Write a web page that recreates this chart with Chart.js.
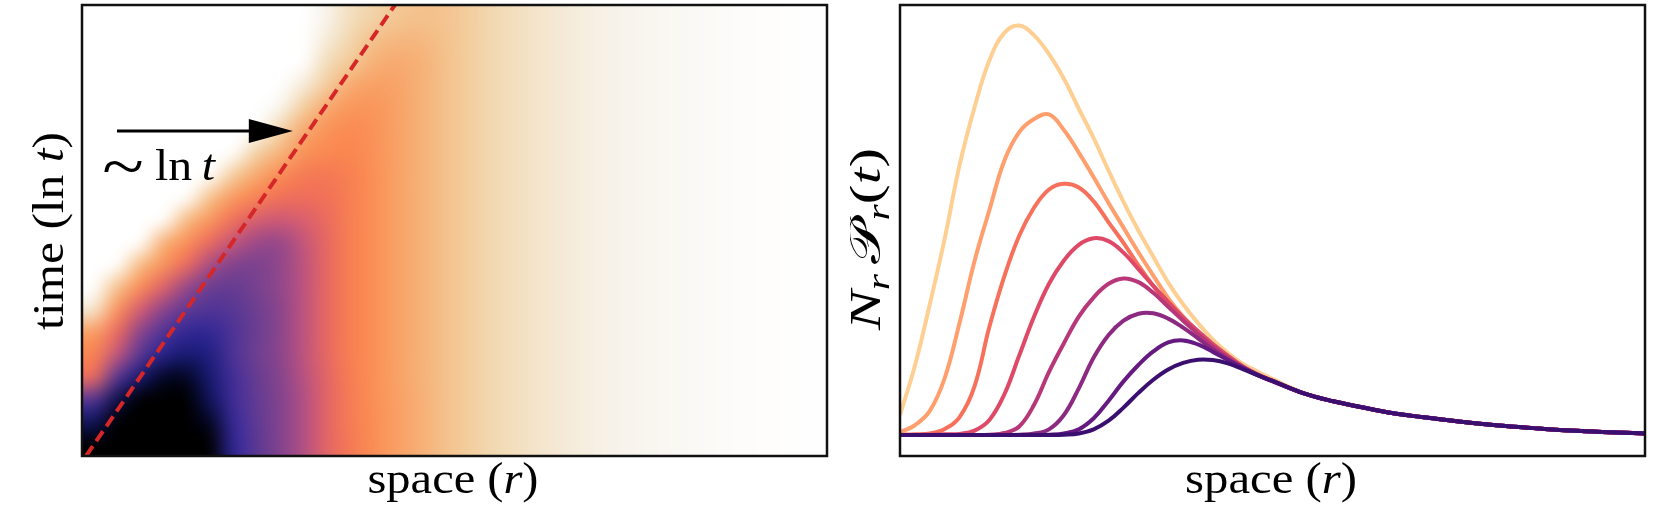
<!DOCTYPE html>
<html><head><meta charset="utf-8">
<script src="https://cdn.jsdelivr.net/npm/chart.js@4.4.1/dist/chart.umd.min.js"></script>
<style>
html,body{margin:0;padding:0;background:#fff;width:1661px;height:519px;overflow:hidden;}
canvas{position:absolute;top:0;}
#left{left:0;}
#right{left:850px;}
</style></head><body>
<canvas id="left" width="850" height="519"></canvas>
<canvas id="right" width="811" height="519"></canvas>
<script>
// ---------------- DATA ----------------
// Left panel: density map (0-100). Rows = time bins (index 0 = earliest, bottom), cols = 32 space bins over r in [0,1]
const heatRows = [
  [100,100,100,100,100,98,85,73,64,56,47,41,35,30,26,21.5,18,15,12.7,10.6,8.8,7.2,5.8,4.7,3.8,3,2.4,1.8,1.3,0.9,0.6,0.3],
  [92,100,100,100,100,96,83,72,64,56,47,40,35,30,26,21.5,18,15,12.7,10.6,8.8,7.2,5.8,4.7,3.8,3,2.4,1.8,1.3,0.9,0.6,0.3],
  [75,93,100,100,100,92,81,71,64,56,47,40,34.5,30,26,21.5,18,15,12.7,10.6,8.8,7.2,5.8,4.7,3.8,3,2.4,1.8,1.3,0.9,0.6,0.3],
  [45,74,90,96,96,90,80,70,63,55,47,39.5,34.5,29.5,25.5,21.5,18,15,12.7,10.6,8.8,7.2,5.8,4.7,3.8,3,2.4,1.8,1.3,0.9,0.6,0.3],
  [38,53,74,87,90,88,77,68,62,54,46,39,34.5,29.5,25.5,21.5,18,15,12.7,10.6,8.8,7.2,5.8,4.7,3.8,3,2.4,1.8,1.3,0.9,0.6,0.3],
  [30,45,62,76,84,84,77,69,62,54,46,39,34.5,29.5,25.5,21.5,18,15,12.7,10.6,8.8,7.2,5.8,4.7,3.8,3,2.4,1.8,1.3,0.9,0.6,0.3],
  [10,33,50,62,72,76,74,68,62,54,46,39,34.5,29.5,25.5,21.5,18,15,12.7,10.6,8.8,7.2,5.8,4.7,3.8,3,2.4,1.8,1.3,0.9,0.6,0.3],
  [0,20,35,48,60,69,70,66,61,54,46,39,34.5,29.5,25.5,21.5,18,15,12.7,10.6,8.8,7.2,5.8,4.7,3.8,3,2.4,1.8,1.3,0.9,0.6,0.3],
  [0,0,22,33,45,57,64,65,61,54,46,39,34.5,29.5,25.5,21.5,18,15,12.7,10.6,8.8,7.2,5.8,4.7,3.8,3,2.4,1.8,1.3,0.9,0.6,0.3],
  [0,0,0,24.5,34,45,53,59,60,53,46,39,34.5,29.5,25.5,21.5,18,15,12.7,10.6,8.8,7.2,5.8,4.7,3.8,3,2.4,1.8,1.3,0.9,0.6,0.3],
  [0,0,0,0,22,32,43,49,51,49,45,39,34.5,29.5,25.5,21.5,18,15,12.7,10.6,8.8,7.2,5.8,4.7,3.8,3,2.4,1.8,1.3,0.9,0.6,0.3],
  [0,0,0,0,0,20,31,38,43,44,43,39,34.5,29.5,25.5,21.5,18,15,12.7,10.6,8.8,7.2,5.8,4.7,3.8,3,2.4,1.8,1.3,0.9,0.6,0.3],
  [0,0,0,0,0,0,17.5,27,35,40,41,38.5,34.5,29.5,25.5,21.5,18,15,12.7,10.6,8.8,7.2,5.8,4.7,3.8,3,2.4,1.8,1.3,0.9,0.6,0.3],
  [0,0,0,0,0,0,0,16,24,33,36,37,34,29.5,25.5,21.5,18,15,12.7,10.6,8.8,7.2,5.8,4.7,3.8,3,2.4,1.8,1.3,0.9,0.6,0.3],
  [0,0,0,0,0,0,0,1,15,27,33,35.5,33.5,29.5,25.5,21.5,18,15,12.7,10.6,8.8,7.2,5.8,4.7,3.8,3,2.4,1.8,1.3,0.9,0.6,0.3],
  [0,0,0,0,0,0,0,0,4,17,27,32,32.5,29.5,25.5,21.5,18,15,12.7,10.6,8.8,7.2,5.8,4.7,3.8,3,2.4,1.8,1.3,0.9,0.6,0.3],
  [0,0,0,0,0,0,0,0,0,8,17.5,26.5,29.5,29,25.5,21.5,18,15,12.7,10.6,8.8,7.2,5.8,4.7,3.8,3,2.4,1.8,1.3,0.9,0.6,0.3],
  [0,0,0,0,0,0,0,0,0,0,13,18.5,25,27,25.5,21.7,18,15,12.7,10.6,8.8,7.2,5.8,4.7,3.8,3,2.4,1.8,1.3,0.9,0.6,0.3],
  [0,0,0,0,0,0,0,0,0,0,8,15,21,23.5,23.5,21.2,18,15,12.7,10.6,8.8,7.2,5.8,4.7,3.8,3,2.4,1.8,1.3,0.9,0.6,0.3],
  [0,0,0,0,0,0,0,0,0,0,5,12.5,16,19.5,21,20.5,18,15,12.7,10.6,8.8,7.2,5.8,4.7,3.8,3,2.4,1.8,1.3,0.9,0.6,0.3]
];
// front ~ ln t (dashed line), in (space, time) units
const frontLine = [{x:0.0054, y:0}, {x:0.42, y:1}];
// arrow annotation (space, time)
const arrowFrom = [0.047, 0.7206];
const arrowTo = [0.283, 0.7206];
const tildePos = [0.055, 0.612];
const lnTextPos = [0.098, 0.612];

// Right panel: N_r P_r(t) at 8 successive times
const space = [0,2,4,6,8,10,12,14,16,18,20,22,24,26,28,30,32,34,36,38,40,42,44,46,48,50,54,58,62,66,70,75,80,85,90,95,100];
const t1 = [0.05,0.17,0.32,0.48,0.66,0.80,0.915,0.982,1.0,0.976,0.93,0.87,0.797,0.725,0.646,0.57,0.50,0.436,0.373,0.32,0.274,0.234,0.202,0.175,0.156,0.138,0.105,0.084,0.069,0.055,0.045,0.034,0.025,0.018,0.012,0.008,0.005];
const t2 = [0.008,0.025,0.06,0.14,0.275,0.425,0.55,0.67,0.74,0.772,0.783,0.745,0.69,0.63,0.567,0.507,0.447,0.39,0.335,0.29,0.252,0.22,0.19,0.166,0.148,0.134,0.104,0.084,0.069,0.055,0.045,0.034,0.025,0.018,0.012,0.008,0.005];
const t3 = [0.002,0.003,0.005,0.016,0.045,0.12,0.265,0.388,0.487,0.556,0.6,0.614,0.605,0.571,0.52,0.47,0.415,0.365,0.32,0.283,0.248,0.218,0.19,0.166,0.148,0.134,0.104,0.084,0.069,0.055,0.045,0.034,0.025,0.018,0.012,0.008,0.005];
const t4 = [0.001,0.001,0.002,0.003,0.004,0.012,0.038,0.1,0.195,0.29,0.37,0.427,0.465,0.481,0.474,0.446,0.406,0.365,0.326,0.288,0.255,0.223,0.195,0.169,0.149,0.133,0.104,0.084,0.069,0.055,0.045,0.034,0.025,0.018,0.012,0.008,0.005];
const t5 = [0.001,0.001,0.001,0.001,0.001,0.001,0.002,0.006,0.022,0.075,0.155,0.225,0.29,0.337,0.37,0.383,0.374,0.348,0.314,0.28,0.248,0.217,0.19,0.167,0.148,0.133,0.104,0.084,0.069,0.055,0.045,0.034,0.025,0.018,0.012,0.008,0.005];
const t6 = [0.001,0.001,0.001,0.001,0.001,0.001,0.001,0.001,0.002,0.005,0.015,0.05,0.115,0.19,0.245,0.28,0.297,0.298,0.285,0.263,0.237,0.21,0.186,0.165,0.147,0.132,0.104,0.084,0.069,0.055,0.045,0.034,0.025,0.018,0.012,0.008,0.005];
const t7 = [0.001,0.001,0.001,0.001,0.001,0.001,0.001,0.001,0.001,0.001,0.002,0.005,0.015,0.042,0.085,0.132,0.172,0.205,0.227,0.232,0.222,0.204,0.184,0.165,0.148,0.133,0.104,0.084,0.069,0.055,0.045,0.034,0.025,0.018,0.012,0.008,0.005];
const t8 = [0.001,0.001,0.001,0.001,0.001,0.001,0.001,0.001,0.001,0.001,0.001,0.002,0.005,0.015,0.036,0.068,0.104,0.136,0.161,0.177,0.185,0.184,0.176,0.162,0.147,0.133,0.104,0.084,0.069,0.055,0.045,0.034,0.025,0.018,0.012,0.008,0.005];
const curves = [t1,t2,t3,t4,t5,t6,t7,t8];
const curveColors = ['#fecf92','#fe9f6d','#f7705c','#de4968','#b73779','#8c2981','#641a80','#3b0f70'];

// ---------------- STYLE ----------------
const SERIF = '"Liberation Serif","DejaVu Serif",serif';
const colorStops = [[0,'#ffffff'],[0.03,'#faf8f3'],[0.06,'#f7f1e6'],[0.10,'#f4e6cf'],[0.14,'#f2dab5'],[0.19,'#f3c996'],[0.25,'#f6b278'],[0.31,'#f99b60'],[0.37,'#fa864f'],[0.44,'#ef6e5a'],[0.50,'#d55c72'],[0.56,'#b04f84'],[0.62,'#8a458c'],[0.68,'#6e3f90'],[0.74,'#573794'],[0.80,'#422e97'],[0.86,'#2a2492'],[0.91,'#141868'],[0.95,'#060a36'],[0.98,'#000000'],[1.0,'#000000']];
function hex(c){return [parseInt(c.slice(1,3),16),parseInt(c.slice(3,5),16),parseInt(c.slice(5,7),16)];}
function cmap(v){
  v=Math.max(0,Math.min(1,v));
  for(let i=1;i<colorStops.length;i++){
    if(v<=colorStops[i][0]){
      const a=colorStops[i-1], b=colorStops[i];
      const f=(v-a[0])/(b[0]-a[0]); const ca=hex(a[1]), cb=hex(b[1]);
      return [0,1,2].map(k=>Math.round(ca[k]+(cb[k]-ca[k])*f));
    }
  }
  return [0,0,0];
}

function drawMath(ctx, parts, o){
  const size=o.size;
  const fs=p=>(p.sub?size*0.7:size)*(p.k||1);
  const fontFor=p=>(p.it?'italic ':'')+fs(p)+'px '+(p.fam||SERIF);
  const widths=parts.map(p=>{ctx.font=fontFor(p);return ctx.measureText(p.t).width;});
  const nat=widths.reduce((a,b)=>a+b,0);
  const sx=o.width?o.width/nat:1;
  ctx.save();
  ctx.translate(o.x,o.y);
  if(o.rot) ctx.rotate(o.rot);
  ctx.scale(sx,1);
  let cx=o.align==='center'?-nat/2:0;
  ctx.fillStyle='#000';ctx.textBaseline='alphabetic';ctx.textAlign='left';
  parts.forEach((p,i)=>{ctx.font=fontFor(p);ctx.fillText(p.t,cx,(p.sub?size*0.2:0)+(p.dy||0)*size);cx+=widths[i];});
  ctx.restore();
}

const framePlugin={id:'frame',afterDraw(chart){
  const {ctx,chartArea:a}=chart;
  ctx.save();ctx.strokeStyle='#111';ctx.lineWidth=2.5;
  ctx.strokeRect(a.left,a.top,a.right-a.left,a.bottom-a.top);ctx.restore();
}};

const heatPlugin={id:'heat',beforeDatasetsDraw(chart){
  const {ctx,scales:{x,y}}=chart;
  const nT=heatRows.length,nR=heatRows[0].length;
  const off=document.createElement('canvas');off.width=nR+2;off.height=nT+2;
  const octx=off.getContext('2d');const img=octx.createImageData(nR+2,nT+2);
  for(let yy=0;yy<nT+2;yy++)for(let xx=0;xx<nR+2;xx++){
    const r=Math.min(nR-1,Math.max(0,xx-1));
    const t=nT-1-Math.min(nT-1,Math.max(0,yy-1));
    const c=cmap(heatRows[t][r]/100);const k=(yy*(nR+2)+xx)*4;
    img.data[k]=c[0];img.data[k+1]=c[1];img.data[k+2]=c[2];img.data[k+3]=255;
  }
  octx.putImageData(img,0,0);
  const x0=x.getPixelForValue(0),x1=x.getPixelForValue(1),y0=y.getPixelForValue(1),y1=y.getPixelForValue(0);
  const cw=(x1-x0)/nR,ch=(y1-y0)/nT;
  ctx.save();ctx.beginPath();ctx.rect(x0,y0,x1-x0,y1-y0);ctx.clip();
  ctx.imageSmoothingEnabled=true;ctx.imageSmoothingQuality='high';
  ctx.filter='blur(5px)';
  ctx.drawImage(off,x0-cw,y0-ch,(x1-x0)+2*cw,(y1-y0)+2*ch);
  ctx.filter='none';ctx.restore();
}};

const leftAnnot={id:'leftAnnot',afterDatasetsDraw(chart){
  const {ctx,scales:{x,y}}=chart;
  const xa=x.getPixelForValue(arrowFrom[0]),ya=y.getPixelForValue(arrowFrom[1]);
  const xb=x.getPixelForValue(arrowTo[0]);
  const headL=44,headH=12;
  ctx.save();ctx.strokeStyle='#000';ctx.lineWidth=3;
  ctx.beginPath();ctx.moveTo(xa,ya);ctx.lineTo(xb-headL+2,ya);ctx.stroke();
  ctx.fillStyle='#000';ctx.beginPath();ctx.moveTo(xb,ya);ctx.lineTo(xb-headL,ya-headH);ctx.lineTo(xb-headL,ya+headH);ctx.closePath();ctx.fill();
  ctx.restore();
  // "~ ln t"
  ctx.save();ctx.fillStyle='#000';ctx.textAlign='center';ctx.textBaseline='alphabetic';
  ctx.translate(x.getPixelForValue(tildePos[0]),y.getPixelForValue(tildePos[1])+8);
  ctx.scale(1.2,1);
  ctx.font='64px "Liberation Serif",serif';
  ctx.fillText('~',0,0);
  ctx.restore();
  drawMath(ctx,[{t:'ln\u2009'},{t:'t',it:true}],
    {x:x.getPixelForValue(lnTextPos[0]),y:y.getPixelForValue(lnTextPos[1]),size:44,width:60});
},afterDraw(chart){
  const ctx=chart.ctx;
  drawMath(ctx,[{t:'space ('},{t:'r',it:true},{t:')'}],{x:453,y:493,size:44,width:171,align:'center'});
  drawMath(ctx,[{t:'time (ln '},{t:'t',it:true},{t:')'}],{x:63,y:231,size:44,width:198,align:'center',rot:-Math.PI/2});
}};

const rightAnnot={id:'rightAnnot',afterDraw(chart){
  const ctx=chart.ctx;
  drawMath(ctx,[{t:'space ('},{t:'r',it:true},{t:')'}],{x:1271-850,y:493,size:44,width:172,align:'center'});
  drawMath(ctx,[{t:'N',it:true},{t:'r',it:true,sub:true},{t:' ',sub:true},{t:'\uD835\uDCAB',fam:'"DejaVu Serif","DejaVu Sans","Noto Sans",serif'},{t:'r',it:true,sub:true},{t:'('},{t:'t',it:true},{t:')'}],
    {x:880-850,y:239,size:44,width:182,align:'center',rot:-Math.PI/2});
}};

// ---------------- CHARTS ----------------
new Chart(document.getElementById('left'),{
  type:'scatter',
  data:{datasets:[{data:frontLine,showLine:true,borderColor:'#d62728',borderWidth:4,borderDash:[12,6],pointRadius:0,fill:false}]},
  options:{responsive:false,animation:false,events:[],
    layout:{padding:{left:82,top:5,right:23,bottom:63}},
    scales:{x:{type:'linear',min:0,max:1,display:false},y:{type:'linear',min:0,max:1,display:false}},
    plugins:{legend:{display:false},tooltip:{enabled:false}}},
  plugins:[heatPlugin,leftAnnot,framePlugin]
});

new Chart(document.getElementById('right'),{
  type:'line',
  data:{datasets:curves.map((c,i)=>({data:c.map((v,k)=>({x:space[k],y:v})),borderColor:curveColors[i],borderWidth:4,pointRadius:0,fill:false,tension:0.4,order:curves.length-1-i}))},
  options:{responsive:false,animation:false,events:[],
    layout:{padding:{left:50,top:5,right:16,bottom:63}},
    scales:{x:{type:'linear',min:0,max:100,display:false},y:{type:'linear',min:-0.05,max:1.05,display:false}},
    plugins:{legend:{display:false},tooltip:{enabled:false}}},
  plugins:[rightAnnot,framePlugin]
});
</script>
</body></html>
